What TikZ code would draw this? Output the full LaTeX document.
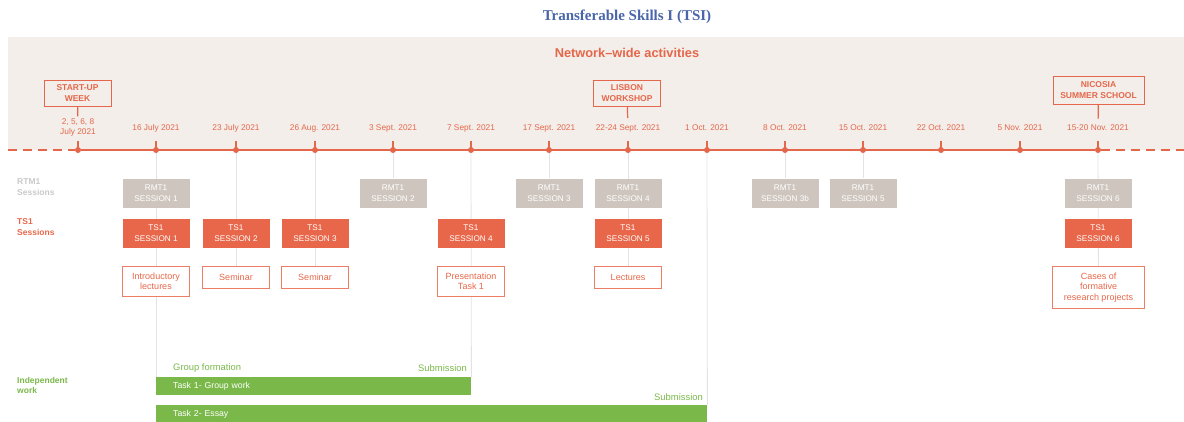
\documentclass[tikz,border=0pt]{standalone}
\usepackage{fontspec}
\setmainfont{Liberation Sans}
\newfontfamily\titlefont{Liberation Serif}
\usetikzlibrary{backgrounds}

\definecolor{tlorange}{HTML}{E5674B}
\definecolor{tsorange}{HTML}{E8674A}
\definecolor{rmtgrey}{HTML}{CEC6BE}
\definecolor{bandbeige}{HTML}{F3EEE9}
\definecolor{taskgreen}{HTML}{7AB84A}
\definecolor{linegrey}{HTML}{E3E3E3}
\definecolor{titleblue}{HTML}{4A66AA}
\definecolor{lblgrey}{HTML}{C9C9C9}

\tikzset{
  tldot/.style={circle,fill=tlorange,inner sep=0pt,minimum size=6pt},
  datelbl/.style={text=tlorange,font=\fontsize{8.3}{10.5}\selectfont,align=center,inner sep=1pt},
  eventbox/.style={draw=tlorange,line width=0.8pt,text=tlorange,font=\bfseries\fontsize{8.5}{10.5}\selectfont,align=center,minimum width=67pt,minimum height=26pt,inner sep=3pt},
  rmtbox/.style={fill=rmtgrey,text=white,font=\fontsize{8.2}{10.5}\selectfont,align=center,minimum width=67pt,minimum height=29pt,inner sep=0pt},
  tsbox/.style={rmtbox,fill=tsorange},
  descbox/.style={draw=tsorange!85,line width=0.8pt,fill=white,text=tsorange,font=\fontsize{9}{10.5}\selectfont,align=center,minimum width=67pt,minimum height=22pt,anchor=north,inner xsep=3pt,inner ysep=6.5pt},
  rowlbl/.style={anchor=west,align=left,font=\bfseries\fontsize{8.5}{10.5}\selectfont,inner sep=0pt},
  taskbar/.style={fill=taskgreen,text=white,anchor=north west,align=left,inner xsep=17pt,inner ysep=0pt,minimum height=18pt,font=\fontsize{8.7}{10}\selectfont},
  greenlbl/.style={text=taskgreen,font=\fontsize{9.4}{10}\selectfont,inner sep=0pt},
  vline/.style={draw=linegrey,line width=0.8pt},
  tick/.style={draw=tlorange,line width=1.2pt},
}

\begin{document}
\begin{tikzpicture}[x=1pt,y=-1pt]
  \useasboundingbox (0,0) rectangle (1184,421);

  % title and band
  \node[text=titleblue,font=\titlefont\bfseries\fontsize{15}{18}\selectfont] (title) at (627,17) {Transferable Skills I (TSI)};
  \node[text=tlorange,font=\bfseries\fontsize{12.8}{14}\selectfont] (network) at (627,53) {Network–wide activities};

  % timeline dots
  \node[tldot] (d1) at (78,150) {};
  \node[tldot] (d2) at (156,150) {};
  \node[tldot] (d3) at (236,150) {};
  \node[tldot] (d4) at (315,150) {};
  \node[tldot] (d5) at (393,150) {};
  \node[tldot] (d6) at (471,150) {};
  \node[tldot] (d7) at (549,150) {};
  \node[tldot] (d8) at (628,150) {};
  \node[tldot] (d9) at (707,150) {};
  \node[tldot] (d10) at (785,150) {};
  \node[tldot] (d11) at (863,150) {};
  \node[tldot] (d12) at (941,150) {};
  \node[tldot] (d13) at (1020,150) {};
  \node[tldot] (d14) at (1098,150) {};
  \coordinate (tlL) at (8,150);
  \coordinate (tlR) at (1184,150);

  % dates
  \node[datelbl] (l1) at (78,127.5) {2, 5, 6, 8\\July 2021};
  \node[datelbl] (l2) at (156,128) {16 July 2021};
  \node[datelbl] (l3) at (236,128) {23 July 2021};
  \node[datelbl] (l4) at (315,128) {26 Aug. 2021};
  \node[datelbl] (l5) at (393,128) {3 Sept. 2021};
  \node[datelbl] (l6) at (471,128) {7 Sept. 2021};
  \node[datelbl] (l7) at (549,128) {17 Sept. 2021};
  \node[datelbl] (l8) at (628,128) {22-24 Sept. 2021};
  \node[datelbl] (l9) at (707,128) {1 Oct. 2021};
  \node[datelbl] (l10) at (785,128) {8 Oct. 2021};
  \node[datelbl] (l11) at (863,128) {15 Oct. 2021};
  \node[datelbl] (l12) at (941,128) {22 Oct. 2021};
  \node[datelbl] (l13) at (1020,128) {5 Nov. 2021};
  \node[datelbl] (l14) at (1098,128) {15-20 Nov. 2021};

  % network events
  \node[eventbox] (startup) at (77.5,93) {START-UP\\WEEK};
  \node[eventbox] (lisbon) at (627,93) {LISBON\\WORKSHOP};
  \node[eventbox,minimum width=91pt,minimum height=28pt] (nicosia) at (1098.5,90) {NICOSIA\\SUMMER SCHOOL};

  % row labels
  \node[rowlbl,text=lblgrey] (rmtrow) at (17,187) {RTM1\\Sessions};
  \node[rowlbl,text=tsorange] (tsrow) at (17,227) {TS1\\Sessions};
  \node[rowlbl,text=taskgreen] (indrow) at (17,385.5) {Independent\\work};

  % RMT1 sessions
  \node[rmtbox] (rmt1) at (156,193) {RMT1\\SESSION 1};
  \node[rmtbox] (rmt2) at (393,193) {RMT1\\SESSION 2};
  \node[rmtbox] (rmt3) at (549,193) {RMT1\\SESSION 3};
  \node[rmtbox] (rmt4) at (628,193) {RMT1\\SESSION 4};
  \node[rmtbox] (rmt3b) at (785,193) {RMT1\\SESSION 3b};
  \node[rmtbox] (rmt5) at (863,193) {RMT1\\SESSION 5};
  \node[rmtbox] (rmt6) at (1098,193) {RMT1\\SESSION 6};

  % TS1 sessions
  \node[tsbox] (ts1) at (156,233) {TS1\\SESSION 1};
  \node[tsbox] (ts2) at (236,233) {TS1\\SESSION 2};
  \node[tsbox] (ts3) at (315,233) {TS1\\SESSION 3};
  \node[tsbox] (ts4) at (471,233) {TS1\\SESSION 4};
  \node[tsbox] (ts5) at (628,233) {TS1\\SESSION 5};
  \node[tsbox] (ts6) at (1098,233) {TS1\\SESSION 6};

  % session contents
  \node[descbox] (intro) at (156,266) {Introductory\\lectures};
  \node[descbox] (sem1) at (236,266) {Seminar};
  \node[descbox] (sem2) at (315,266) {Seminar};
  \node[descbox] (pres) at (471,266) {Presentation\\Task 1};
  \node[descbox] (lect) at (628,266) {Lectures};
  \node[descbox,minimum width=92pt] (cases) at (1098.5,266) {Cases of\\formative\\research projects};

  % independent work
  \node[taskbar,text width=281pt] (task1) at (156,377) {Task 1- Group work};
  \node[taskbar,text width=517pt] (task2) at (156,405) {Task 2- Essay};
  \node[greenlbl,anchor=west] (groupform) at (173,368) {Group formation};
  \node[greenlbl,anchor=east] (sub1) at (467,368) {Submission};
  \node[greenlbl,anchor=east] (sub2) at (703,397) {Submission};

  \begin{scope}[on background layer]
    \fill[bandbeige] (8,37) rectangle (1184,150);
    \draw[vline] (d2) -- (task1.north west);
    \draw[vline] (d3) -- (sem1);
    \draw[vline] (d4) -- (sem2);
    \draw[vline] (d5) -- (rmt2);
    \draw[vline] (d6) -- (task1.north east);
    \draw[vline] (d7) -- (rmt3);
    \draw[vline] (d8) -- (lect);
    \draw[vline] (d9) -- (task2.north east);
    \draw[vline] (d10) -- (rmt3b);
    \draw[vline] (d11) -- (rmt5);
    \draw[vline] (d14) -- (cases);
    \draw[tlorange,line width=1.8pt,dash pattern=on 9pt off 6pt] (tlL) -- (d1);
    \draw[tlorange,line width=1.8pt] (d1) -- (d14);
    \draw[tlorange,line width=1.8pt,dash pattern=on 9pt off 6pt] (d14) -- (tlR);
  \end{scope}

  % ticks and event links
  \draw[tick] (d1.center) -- ++(0,-9);
  \draw[tick] (d2.center) -- ++(0,-9);
  \draw[tick] (d3.center) -- ++(0,-9);
  \draw[tick] (d4.center) -- ++(0,-9);
  \draw[tick] (d5.center) -- ++(0,-9);
  \draw[tick] (d6.center) -- ++(0,-9);
  \draw[tick] (d7.center) -- ++(0,-9);
  \draw[tick] (d8.center) -- ++(0,-9);
  \draw[tick] (d9.center) -- ++(0,-9);
  \draw[tick] (d10.center) -- ++(0,-9);
  \draw[tick] (d11.center) -- ++(0,-9);
  \draw[tick] (d12.center) -- ++(0,-9);
  \draw[tick] (d13.center) -- ++(0,-9);
  \draw[tick] (d14.center) -- ++(0,-9);
  \draw[tick,shorten >=1pt] (startup) -- (l1);
  \draw[tick,shorten >=5pt] (lisbon) -- (l8);
  \draw[tick,shorten >=5pt] (nicosia) -- (l14);
\end{tikzpicture}
\end{document}
